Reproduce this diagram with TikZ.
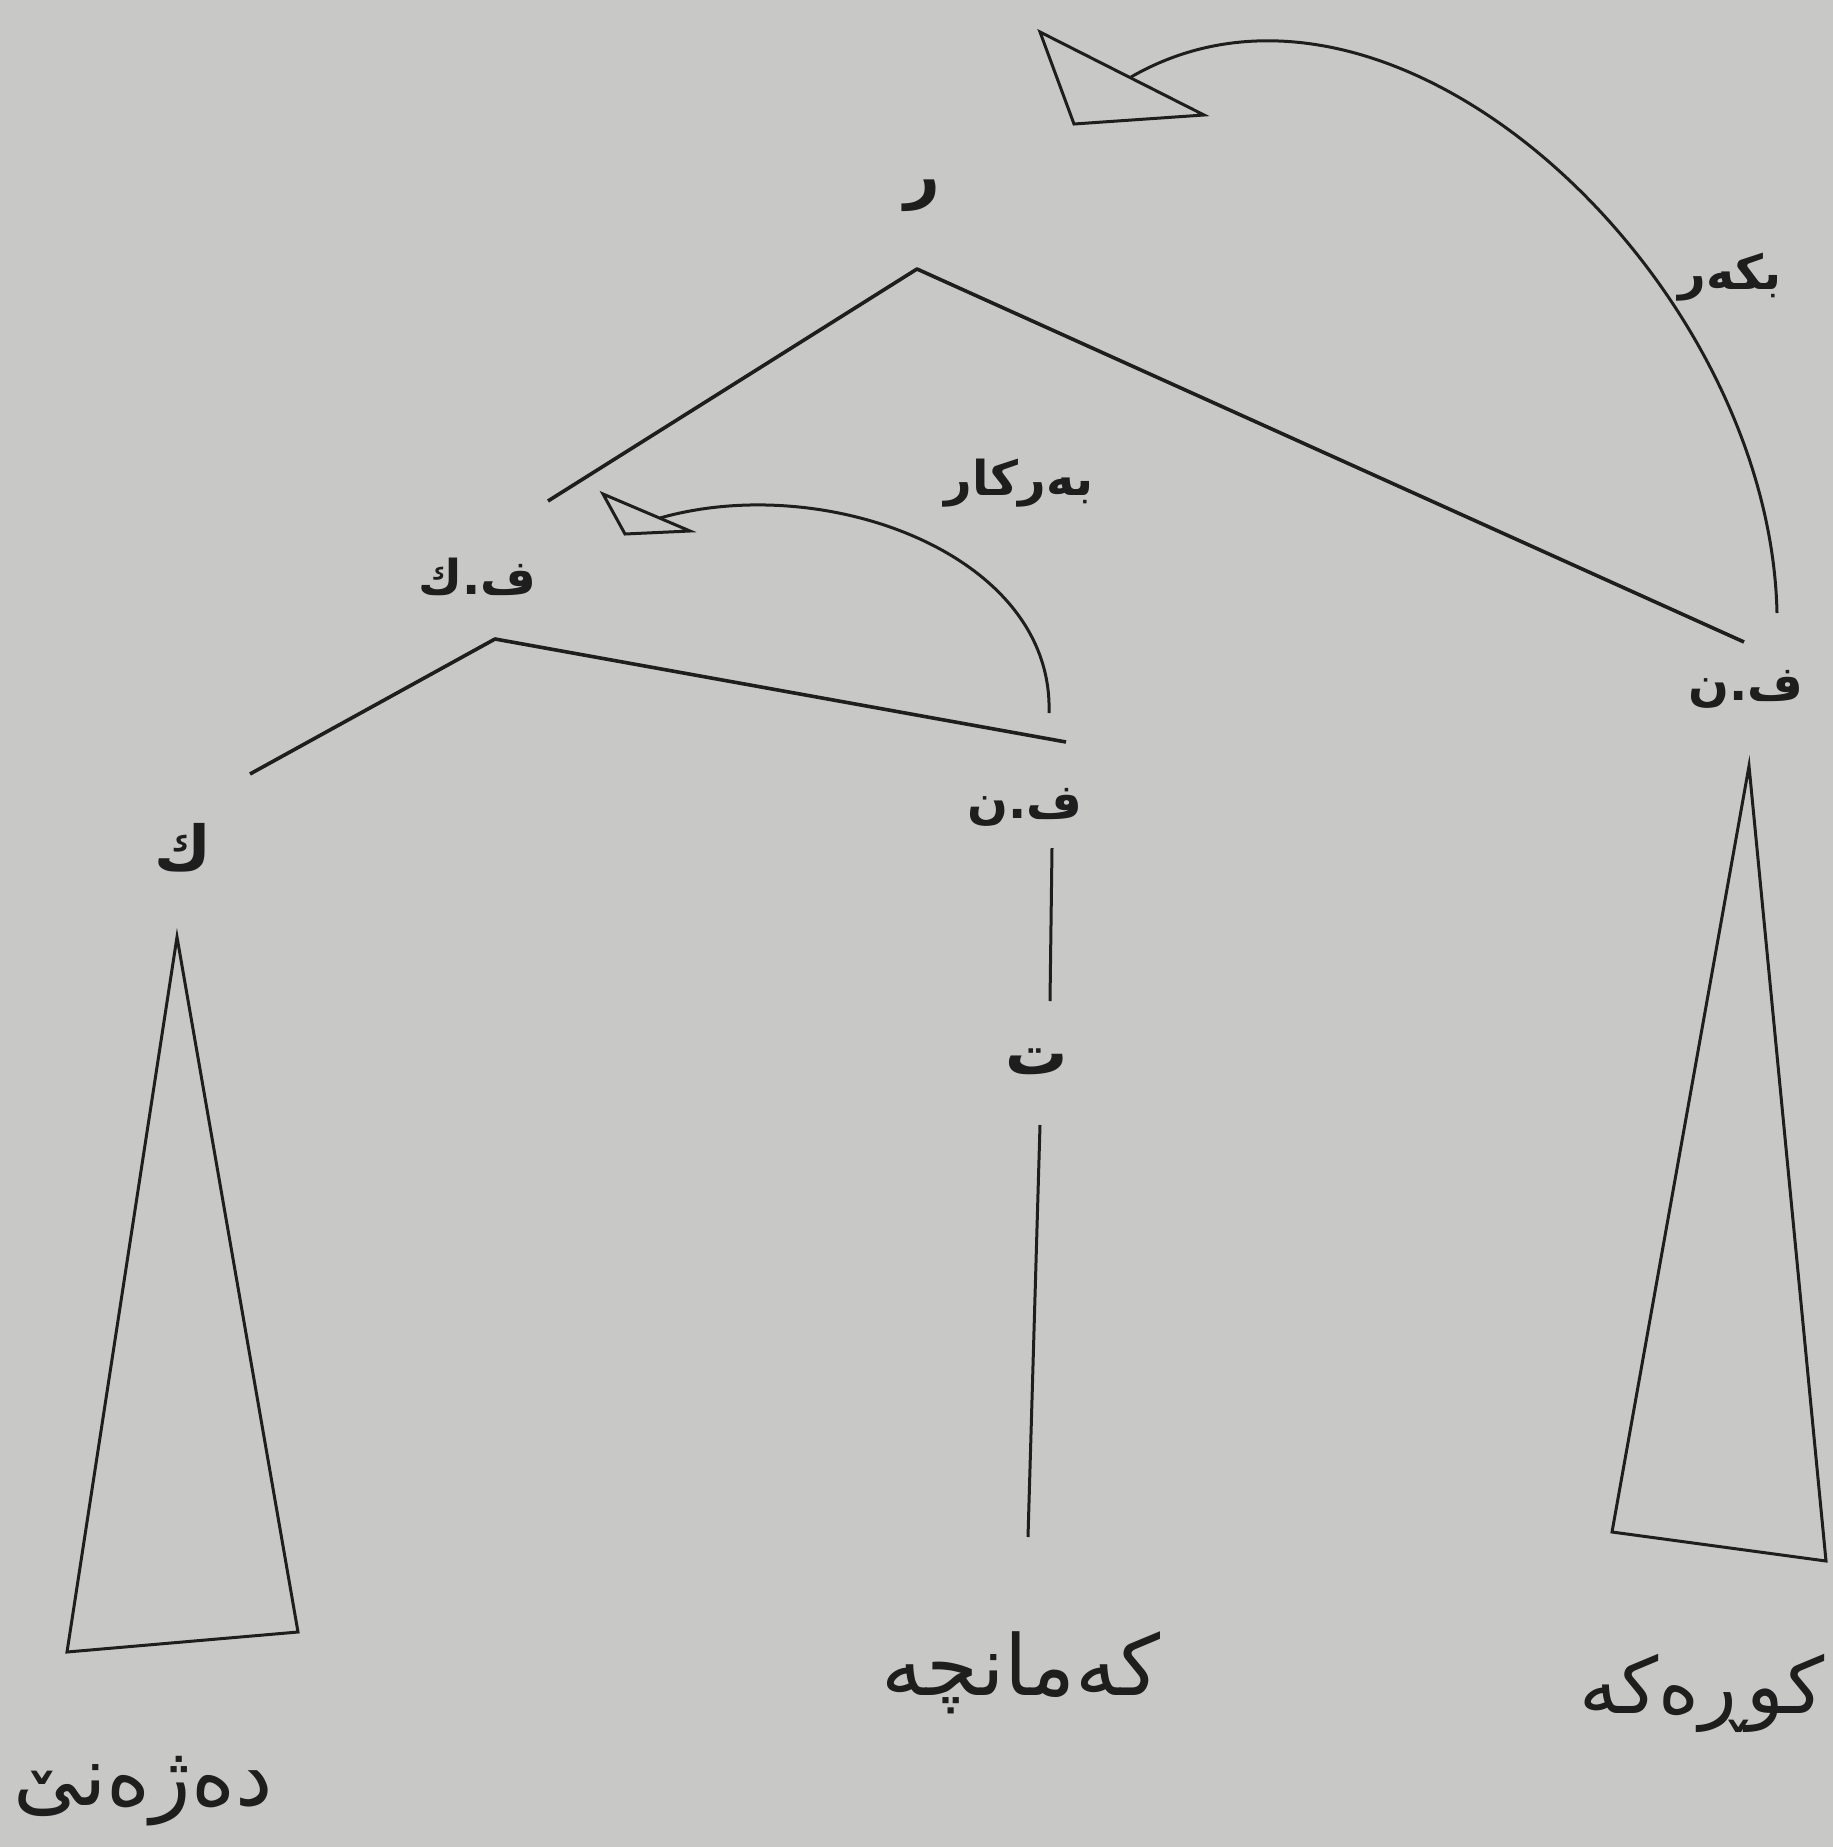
\documentclass[tikz,border=0pt]{standalone}
\usepackage{fontspec}
\TeXXeTstate=1
\newfontfamily\arabicfont[Script=Arabic]{DejaVu Sans}
\definecolor{bg}{RGB}{200,200,198}
\definecolor{ink}{RGB}{30,30,30}
\begin{document}
\begin{tikzpicture}[x=1pt,y=-1pt,
  tree/.style={draw=ink,line width=3.6pt},
  thin/.style={draw=ink,line width=3pt},
  lab/.style={inner sep=0pt,text=ink,font=\arabicfont\bfseries\fontsize{48}{52}\selectfont},
  big/.style={inner sep=0pt,text=ink,font=\arabicfont\bfseries\fontsize{62}{66}\selectfont},
  word/.style={inner sep=0pt,text=ink,font=\arabicfont\fontsize{84}{88}\selectfont}]
\fill[bg] (0,0) rectangle (1833,1847);
\useasboundingbox (0,0) rectangle (1833,1847);
% labels
\node[big] (r) at (922,196) {\beginR ر\endR};
\node[lab] (fk) at (477,577) {\beginR ف.ك\endR};
\node[lab] (fn1) at (1025,807) {\beginR ف.ن\endR};
\node[lab] (fn2) at (1746,689) {\beginR ف.ن\endR};
\node[big] (k) at (183,848) {\beginR ك\endR};
\node[big] (t) at (1037,1062) {\beginR ت\endR};
\node[lab] (bk) at (1730,277) {\beginR بکەر\endR};
\node[lab] (bkr) at (1019,483) {\beginR بەرکار\endR};
\node[word] (w1) at (143,1791) {\beginR دەژەنێ\endR};
\node[word] (w2) at (1021,1673) {\beginR کەمانچە\endR};
\node[word,font=\arabicfont\fontsize{78}{82}\selectfont] (w3) at (1702,1693) {\beginR کوڕەکە\endR};
% tree points
\coordinate (ra) at (917,269);
\coordinate (ral) at (548,501);
\coordinate (rar) at (1744,642);
\coordinate (fka) at (495,639);
\coordinate (fkl) at (250,774);
\coordinate (fkr) at (1066,742);
\coordinate (v1t) at (1052,848);
\coordinate (v1b) at (1050,1001);
\coordinate (v2t) at (1040,1125);
\coordinate (v2b) at (1028,1537);
\coordinate (lta) at (177,937);
\coordinate (ltl) at (67,1652);
\coordinate (ltr) at (298,1632);
\coordinate (rta) at (1749,766);
\coordinate (rtl) at (1612,1532);
\coordinate (rtr) at (1826,1561);
\draw[tree,line join=round] (ral) -- (ra) -- (rar);
\draw[tree,line join=round] (fkl) -- (fka) -- (fkr);
\draw[thin] (v1t) -- (v1b);
\draw[thin] (v2t) -- (v2b);
\draw[thin,line join=miter] (lta) -- (ltl) -- (ltr) -- cycle;
\draw[thin,line join=miter] (rta) -- (rtl) -- (rtr) -- cycle;
% arcs
\coordinate (a1s) at (1777,613);
\coordinate (a1e) at (1131,77);
\draw[thin] (a1s) .. controls (1770,280) and (1395,-75) .. (a1e);
\draw[thin,line join=miter] (1040,32) -- (1204,115) -- (1074,124) -- cycle;
\coordinate (a2s) at (1049,713);
\coordinate (a2e) at (660,518);
\draw[thin] (a2s) .. controls (1054,554) and (825,471) .. (a2e);
\draw[thin,line join=miter] (603,494) -- (690,531) -- (625,534) -- cycle;
\end{tikzpicture}
\end{document}
